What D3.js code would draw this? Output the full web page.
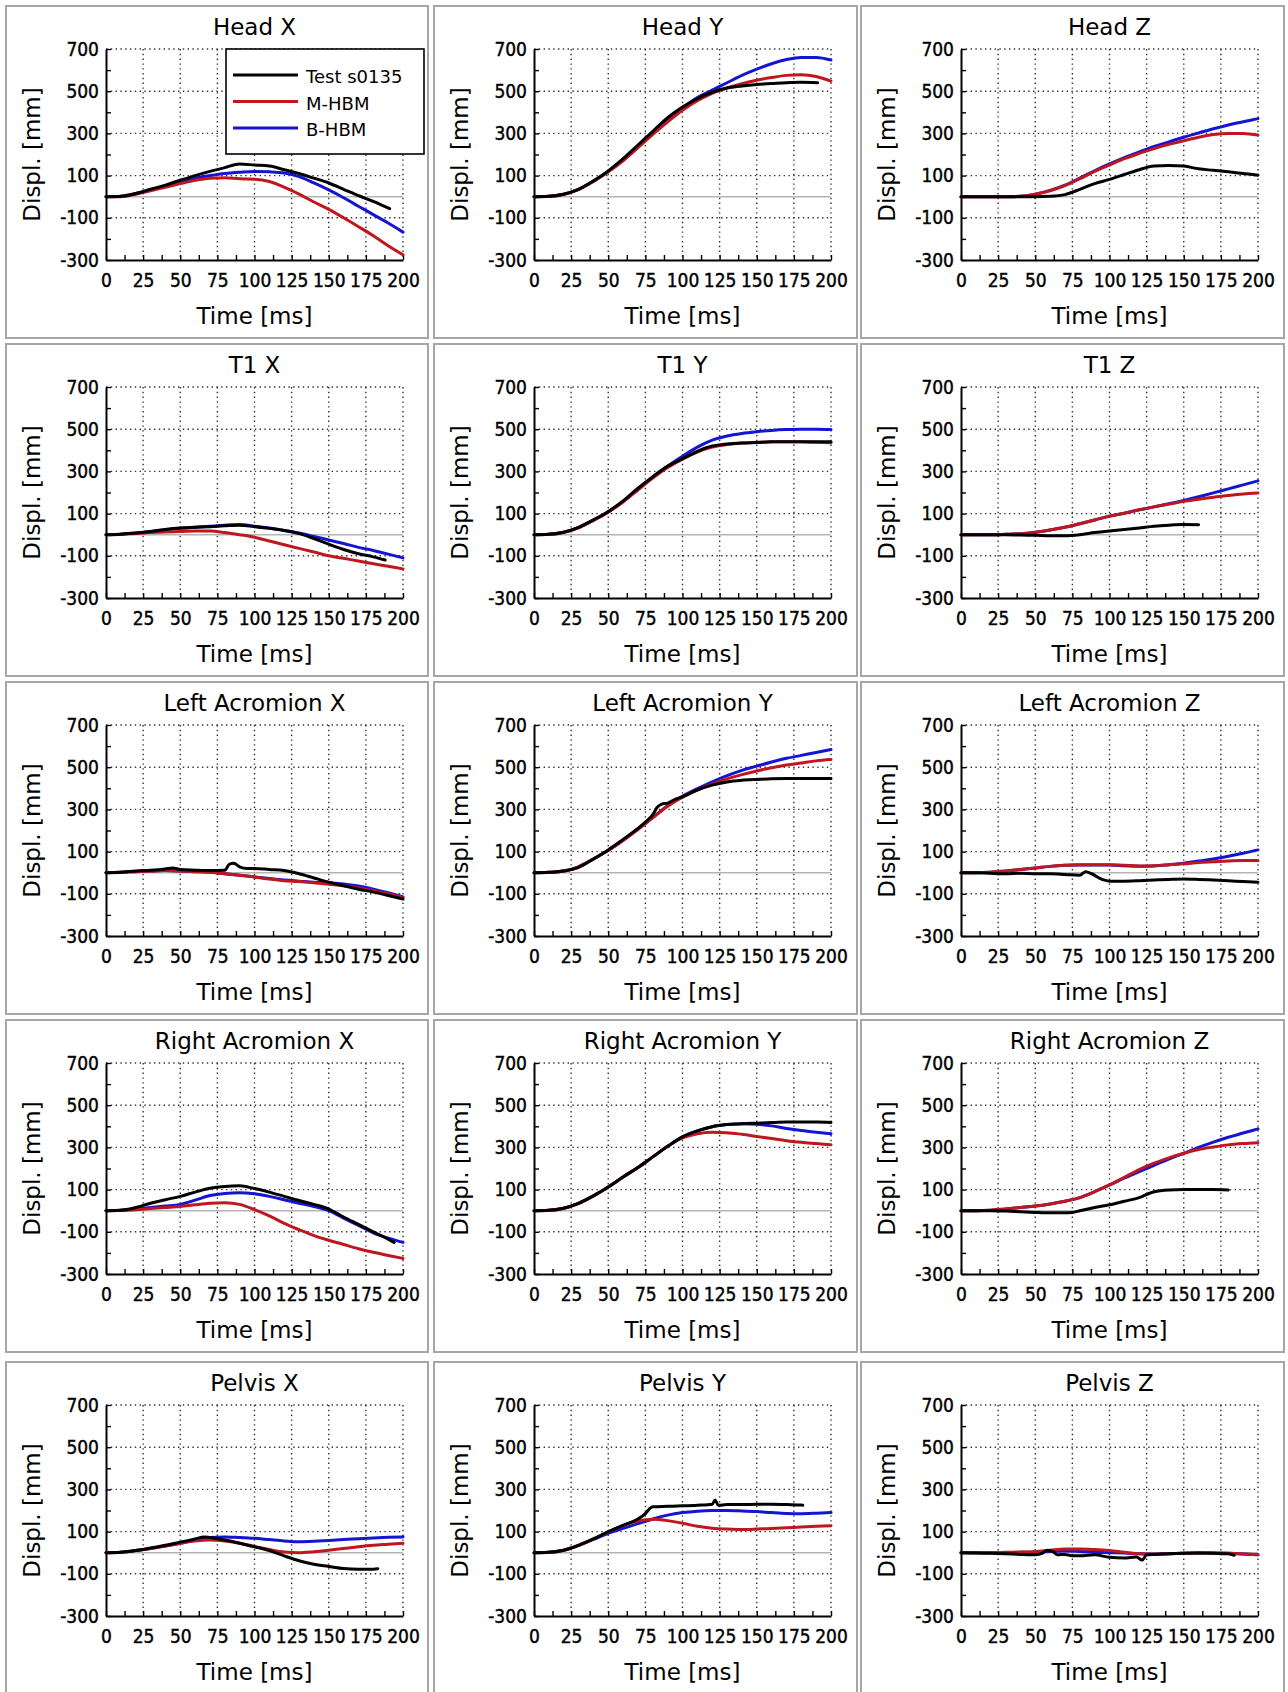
<!DOCTYPE html>
<html><head><meta charset="utf-8">
<script src="https://cdn.jsdelivr.net/npm/d3@7"></script>
<style>
body{margin:0;background:#fff}
svg{display:block}
text{font-family:"DejaVu Sans",Verdana,sans-serif;fill:#000}
.tick text{font-family:"DejaVu Sans Condensed","DejaVu Sans",sans-serif}
</style>
</head><body><svg id="c" width="1288" height="1692"></svg>
<script>
const timeTicks = [0,25,50,75,100,125,150,175,200];
const displTicks = [700,500,300,100,-100,-300];
const seriesNames = ["Test s0135","M-HBM","B-HBM"];
const titles = ["Head X","Head Y","Head Z","T1 X","T1 Y","T1 Z",
  "Left Acromion X","Left Acromion Y","Left Acromion Z",
  "Right Acromion X","Right Acromion Y","Right Acromion Z",
  "Pelvis X","Pelvis Y","Pelvis Z"];

// [time ms, displacement mm]
const headX_test=[[0,0],[10,2],[20,15],[30,35],[40,55],[50,78],[60,100],[70,120],[80,138],[90,155],[100,150],[110,145],[120,128],[130,110],[140,88],[150,65],[160,35],[170,5],[180,-22],[191,-57]];
const headX_m=[[0,0],[10,0],[20,12],[30,28],[40,45],[50,62],[60,78],[70,88],[80,90],[90,85],[100,83],[110,72],[120,45],[130,12],[140,-25],[150,-60],[160,-100],[170,-142],[180,-185],[190,-232],[200,-275]];
const headX_b=[[0,0],[10,2],[20,15],[30,32],[40,52],[50,70],[60,88],[70,100],[80,110],[90,116],[100,120],[110,118],[120,112],[130,95],[140,65],[150,32],[160,-5],[170,-45],[180,-85],[190,-125],[200,-168]];

const headY_test=[[0,0],[10,2],[20,12],[30,35],[40,75],[50,122],[60,180],[70,245],[80,310],[90,375],[100,425],[110,465],[120,495],[130,515],[140,525],[150,532],[160,536],[170,540],[180,542],[191,540]];
const headY_m=[[0,0],[10,2],[20,12],[30,35],[40,72],[50,118],[60,170],[70,232],[80,295],[90,355],[100,410],[110,455],[120,490],[130,515],[140,535],[150,552],[160,565],[170,575],[180,578],[190,570],[200,548]];
const headY_b=[[0,0],[10,2],[20,12],[30,35],[40,73],[50,120],[60,175],[70,240],[80,305],[90,370],[100,420],[110,470],[120,505],[130,540],[140,575],[150,605],[160,630],[170,650],[180,660],[190,660],[200,648]];

const headZ_test=[[0,0],[10,0],[20,0],[30,0],[40,0],[50,0],[60,2],[70,10],[80,35],[90,62],[100,82],[110,105],[120,128],[130,145],[140,148],[150,145],[160,132],[170,125],[180,118],[190,110],[200,102]];
const headZ_m=[[0,0],[10,0],[20,0],[30,0],[40,2],[50,12],[60,28],[70,52],[80,85],[90,120],[100,150],[110,180],[120,205],[130,228],[140,248],[150,265],[160,282],[170,295],[180,300],[190,300],[200,292]];
const headZ_b=[[0,0],[10,0],[20,0],[30,0],[40,2],[50,12],[60,30],[70,55],[80,88],[90,123],[100,155],[110,185],[120,212],[130,238],[140,260],[150,282],[160,302],[170,322],[180,340],[190,355],[200,370]];

const t1X_test=[[0,0],[10,2],[20,8],[30,15],[40,25],[50,32],[60,35],[70,38],[80,42],[90,45],[100,38],[110,30],[120,20],[130,5],[140,-18],[150,-45],[160,-70],[170,-90],[180,-105],[188,-120]];
const t1X_m=[[0,0],[10,2],[20,6],[30,10],[40,13],[50,15],[60,18],[70,17],[80,10],[90,0],[100,-12],[110,-30],[120,-48],[130,-65],[140,-82],[150,-100],[160,-112],[170,-125],[180,-138],[190,-150],[200,-162]];
const t1X_b=[[0,0],[10,2],[20,8],[30,15],[40,25],[50,30],[60,35],[70,40],[80,45],[90,48],[100,40],[110,32],[120,20],[130,8],[140,-8],[150,-25],[160,-42],[170,-60],[180,-75],[190,-92],[200,-110]];

const t1Y_test=[[0,0],[10,2],[20,12],[30,35],[40,70],[50,110],[60,160],[70,220],[80,275],[90,325],[100,360],[110,395],[120,420],[130,430],[140,435],[150,437],[160,440],[170,440],[180,441],[190,441],[200,440]];
const t1Y_m=[[0,0],[10,2],[20,12],[30,33],[40,68],[50,107],[60,155],[70,212],[80,268],[90,318],[100,358],[110,392],[120,415],[130,428],[140,435],[150,438],[160,440],[170,441],[180,440],[190,438],[200,436]];
const t1Y_b=[[0,0],[10,2],[20,12],[30,34],[40,69],[50,108],[60,158],[70,216],[80,272],[90,325],[100,372],[110,415],[120,448],[130,468],[140,480],[150,488],[160,494],[170,498],[180,500],[190,500],[200,498]];

const t1Z_test=[[0,0],[10,0],[20,0],[30,0],[40,-2],[50,-3],[60,-5],[70,-5],[80,0],[90,10],[100,18],[110,25],[120,32],[130,40],[140,45],[150,48],[160,47]];
const t1Z_m=[[0,0],[10,0],[20,0],[30,2],[40,5],[50,12],[60,22],[70,35],[80,52],[90,70],[100,88],[110,102],[120,118],[130,132],[140,145],[150,158],[160,168],[170,178],[180,186],[190,193],[200,198]];
const t1Z_b=[[0,0],[10,0],[20,0],[30,2],[40,5],[50,12],[60,22],[70,35],[80,52],[90,70],[100,88],[110,102],[120,118],[130,132],[140,147],[150,162],[160,180],[170,198],[180,217],[190,236],[200,255]];

const laX_test=[[0,0],[10,2],[20,8],[30,12],[40,18],[45,22],[50,15],[60,12],[70,10],[80,12],[83,40],[86,45],[90,28],[95,20],[100,20],[110,15],[120,10],[130,-5],[140,-25],[150,-45],[160,-62],[170,-78],[180,-92],[190,-108],[200,-125]];
const laX_m=[[0,0],[10,2],[20,5],[30,8],[40,10],[50,8],[60,5],[70,2],[80,-5],[90,-12],[100,-20],[110,-30],[120,-38],[130,-42],[140,-48],[150,-55],[160,-62],[170,-72],[180,-85],[190,-100],[200,-118]];
const laX_b=[[0,0],[10,2],[20,5],[30,8],[40,10],[50,8],[60,5],[70,2],[80,-5],[90,-12],[100,-20],[110,-28],[120,-35],[130,-40],[140,-45],[150,-48],[160,-53],[170,-63],[180,-78],[190,-95],[200,-115]];

const laY_test=[[0,0],[10,2],[20,8],[30,25],[40,65],[50,108],[60,158],[70,210],[75,240],[80,275],[83,310],[86,325],[90,330],[95,348],[100,360],[110,392],[120,415],[130,430],[140,438],[150,442],[160,445],[170,446],[180,446],[190,446],[200,446]];
const laY_m=[[0,0],[10,2],[20,8],[30,28],[40,65],[50,105],[60,152],[70,205],[80,260],[90,315],[100,358],[110,392],[120,420],[130,445],[140,465],[150,482],[160,497],[170,510],[180,520],[190,530],[200,536]];
const laY_b=[[0,0],[10,2],[20,8],[30,28],[40,65],[50,106],[60,154],[70,207],[80,262],[90,318],[100,362],[110,398],[120,430],[130,460],[140,485],[150,505],[160,525],[170,542],[180,556],[190,570],[200,584]];

const laZ_test=[[0,0],[10,0],[20,-3],[30,-5],[40,-3],[50,-5],[60,-5],[70,-8],[80,-12],[84,5],[88,-5],[95,-32],[100,-40],[110,-40],[120,-38],[130,-35],[140,-32],[150,-30],[160,-32],[170,-35],[180,-38],[190,-42],[200,-45]];
const laZ_m=[[0,0],[10,0],[20,2],[30,8],[40,15],[50,22],[60,30],[70,35],[80,38],[90,38],[100,38],[110,35],[120,32],[130,33],[140,38],[150,42],[160,48],[170,52],[180,56],[190,58],[200,58]];
const laZ_b=[[0,0],[10,0],[20,2],[30,8],[40,15],[50,22],[60,30],[70,35],[80,37],[90,37],[100,36],[110,33],[120,30],[130,32],[140,38],[150,45],[160,55],[170,65],[180,78],[190,92],[200,108]];

const raX_test=[[0,0],[10,2],[20,15],[30,35],[40,52],[50,68],[60,88],[70,106],[80,115],[90,118],[100,105],[110,88],[120,68],[130,48],[140,30],[150,8],[160,-30],[170,-65],[180,-100],[190,-135],[194,-150]];
const raX_m=[[0,0],[10,2],[20,5],[30,10],[40,15],[50,20],[60,28],[70,35],[80,38],[90,30],[100,5],[110,-25],[120,-60],[130,-90],[140,-118],[150,-140],[160,-160],[170,-180],[180,-197],[190,-212],[200,-226]];
const raX_b=[[0,0],[10,2],[20,8],[30,15],[40,22],[50,30],[60,50],[70,72],[80,82],[90,85],[100,80],[110,68],[120,52],[130,35],[140,20],[150,0],[160,-35],[170,-70],[180,-105],[190,-130],[200,-150]];

const raY_test=[[0,0],[10,2],[20,12],[30,35],[40,70],[50,112],[60,160],[70,205],[80,255],[90,305],[100,350],[110,378],[120,398],[130,408],[140,412],[150,415],[160,418],[170,420],[180,420],[190,420],[200,418]];
const raY_m=[[0,0],[10,2],[20,12],[30,35],[40,70],[50,112],[60,160],[70,205],[80,255],[90,305],[100,345],[110,365],[120,372],[130,370],[140,362],[150,352],[160,342],[170,332],[180,324],[190,318],[200,312]];
const raY_b=[[0,0],[10,2],[20,12],[30,35],[40,70],[50,112],[60,160],[70,205],[80,255],[90,305],[100,350],[110,378],[120,398],[130,408],[140,412],[150,410],[160,402],[170,390],[180,380],[190,372],[200,365]];

const raZ_test=[[0,0],[10,0],[20,0],[30,-2],[40,-5],[50,-8],[60,-10],[70,-10],[75,-8],[80,0],[90,15],[100,28],[110,45],[120,62],[130,90],[140,98],[150,100],[160,100],[170,100],[180,98]];
const raZ_m=[[0,0],[10,0],[20,2],[30,8],[40,15],[50,22],[60,32],[70,45],[80,62],[90,90],[100,122],[110,158],[120,195],[130,225],[140,250],[150,272],[160,290],[170,302],[180,312],[190,318],[200,322]];
const raZ_b=[[0,0],[10,0],[20,2],[30,8],[40,15],[50,22],[60,32],[70,45],[80,62],[90,90],[100,122],[110,155],[120,185],[130,215],[140,245],[150,272],[160,300],[170,325],[180,348],[190,368],[200,388]];

const pX_test=[[0,0],[10,2],[20,10],[30,22],[40,35],[50,50],[60,65],[66,75],[70,72],[80,60],[90,45],[100,28],[110,10],[120,-15],[130,-38],[140,-55],[150,-65],[160,-75],[170,-78],[180,-78],[183,-76]];
const pX_m=[[0,0],[10,2],[20,10],[30,20],[40,32],[50,45],[60,55],[70,60],[80,55],[90,45],[100,30],[110,15],[120,3],[130,0],[140,5],[150,12],[160,20],[170,28],[180,35],[190,40],[200,45]];
const pX_b=[[0,0],[10,2],[20,10],[30,20],[40,32],[50,45],[60,60],[70,72],[80,75],[90,72],[100,68],[110,62],[120,56],[130,52],[140,54],[150,58],[160,62],[170,66],[180,70],[190,73],[200,75]];

const pY_test=[[0,0],[10,2],[20,12],[30,35],[40,65],[50,100],[60,130],[70,160],[75,185],[78,210],[80,218],[90,220],[100,222],[110,225],[120,230],[122,250],[124,225],[130,228],[140,228],[150,230],[160,230],[170,228],[180,226],[181,225]];
const pY_m=[[0,0],[10,2],[20,12],[30,35],[40,65],[50,98],[60,128],[70,150],[80,158],[90,152],[100,140],[110,125],[120,116],[130,112],[140,110],[150,112],[160,115],[170,118],[180,122],[190,125],[200,128]];
const pY_b=[[0,0],[10,2],[20,12],[30,35],[40,63],[50,92],[60,115],[70,138],[80,160],[90,178],[100,190],[110,197],[120,200],[130,200],[140,198],[150,195],[160,190],[170,186],[180,185],[190,187],[200,190]];

const pZ_test=[[0,0],[10,-2],[20,-3],[30,-5],[40,-8],[50,-10],[55,-2],[58,12],[62,5],[65,-10],[70,-8],[75,-15],[80,-15],[90,-10],[100,-22],[110,-25],[118,-20],[122,-35],[125,-10],[130,-8],[140,-5],[150,-3],[160,-2],[170,-3],[180,-5],[184,-12]];
const pZ_m=[[0,0],[10,0],[20,0],[30,2],[40,3],[50,5],[60,12],[70,18],[80,18],[90,15],[100,10],[110,2],[120,-5],[130,-7],[140,-5],[150,-3],[160,-2],[170,-2],[180,-3],[190,-6],[200,-10]];
const pZ_b=[[0,0],[10,0],[20,0],[30,0],[40,2],[50,3],[60,6],[70,8],[80,6],[90,2],[100,0],[110,-2],[120,-5],[130,-6],[140,-5],[150,-3],[160,-2],[170,-2],[180,-3],[190,-6],[200,-10]];

const testData=[headX_test,headY_test,headZ_test,t1X_test,t1Y_test,t1Z_test,laX_test,laY_test,laZ_test,raX_test,raY_test,raZ_test,pX_test,pY_test,pZ_test];
const mData=[headX_m,headY_m,headZ_m,t1X_m,t1Y_m,t1Z_m,laX_m,laY_m,laZ_m,raX_m,raY_m,raZ_m,pX_m,pY_m,pZ_m];
const bData=[headX_b,headY_b,headZ_b,t1X_b,t1Y_b,t1Z_b,laX_b,laY_b,laZ_b,raX_b,raY_b,raZ_b,pX_b,pY_b,pZ_b];

const colors = ["#000000","#c0161e","#1414d2"];
const colX = [6,434,861], rowY = [6,344,682,1020,1362];
const panelW = 422, panelH = 332;
const pl = 100, pt = 43, pw = 297, ph = 211;

const svg = d3.select("#c");
svg.append("rect").attr("width",1288).attr("height",1692).attr("fill","#fff");

titles.forEach((title,i)=>{
  const r = Math.floor(i/3), c = i%3;
  const g = svg.append("g").attr("transform",`translate(${colX[c]},${rowY[r]})`);
  g.append("rect").attr("x",0).attr("y",0).attr("width",panelW + (c>0?1:0)).attr("height",panelH)
    .attr("fill","#fff").attr("stroke","#a6a6a6").attr("stroke-width",2);

  const x = d3.scaleLinear().domain([0,200]).range([pl,pl+pw]);
  const y = d3.scaleLinear().domain([-300,700]).range([pt+ph,pt]);

  // grid
  g.selectAll(null).data(timeTicks.filter(t=>t>0)).join("line")
    .attr("x1",d=>x(d)).attr("x2",d=>x(d)).attr("y1",y(700)).attr("y2",y(-300))
    .attr("stroke","#333").attr("stroke-width",1.4).attr("stroke-dasharray","1.4,3.4");
  g.selectAll(null).data(displTicks.filter(v=>v>-300)).join("line")
    .attr("x1",x(0)).attr("x2",x(200)).attr("y1",d=>y(d)).attr("y2",d=>y(d))
    .attr("stroke","#333").attr("stroke-width",1.4).attr("stroke-dasharray","1.4,3.4");
  // zero line
  g.append("line").attr("x1",x(0)).attr("x2",x(200)).attr("y1",y(0)).attr("y2",y(0))
    .attr("stroke","#b4b4b4").attr("stroke-width",1.6);

  // axes
  const ax = g.append("g").attr("transform",`translate(0,${y(-300)})`)
    .call(d3.axisBottom(x).tickValues(d3.range(0,201,12.5)).tickSizeInner(-5).tickSizeOuter(0)
      .tickPadding(14).tickFormat(d=> d%25===0 ? d : ""));
  const ay = g.append("g").attr("transform",`translate(${x(0)},0)`)
    .call(d3.axisLeft(y).tickValues(d3.range(-300,701,100)).tickSizeInner(-5).tickSizeOuter(0)
      .tickPadding(7).tickFormat(d=> displTicks.includes(d) ? d : ""));
  [ax,ay].forEach(a=>{
    a.attr("font-family",null).attr("font-size",null);
    a.select(".domain").attr("stroke","#000").attr("stroke-width",2);
    a.selectAll(".tick line").attr("stroke","#000").attr("stroke-width",1.4);
    a.selectAll(".tick text").style("font-size","19px").attr("fill","#000")
      .attr("stroke","#000").attr("stroke-width",0.4);
  });

  // lines
  const line = d3.line().x(d=>x(d[0])).y(d=>y(d[1])).curve(d3.curveMonotoneX);
  [[bData[i],colors[2]],[mData[i],colors[1]],[testData[i],colors[0]]].forEach(([d,col])=>{
    g.append("path").datum(d).attr("d",line).attr("fill","none")
      .attr("stroke",col).attr("stroke-width",3).attr("stroke-linejoin","round").attr("stroke-linecap","round");
  });

  // texts
  g.append("text").attr("x",pl+pw/2).attr("y",28.5).attr("text-anchor","middle")
    .style("font-size","23px").text(title);
  g.append("text").attr("x",pl+pw/2).attr("y",pt+ph+64).attr("text-anchor","middle")
    .style("font-size","23px").text("Time [ms]");
  g.append("text").attr("transform",`translate(34,${pt+ph/2}) rotate(-90)`).attr("text-anchor","middle")
    .style("font-size","23px").text("Displ. [mm]");

  if(i===0){
    const lg = g.append("g");
    lg.append("rect").attr("x",220).attr("y",43).attr("width",198).attr("height",105)
      .attr("fill","#fff").attr("stroke","#000").attr("stroke-width",1.6);
    seriesNames.forEach((n,k)=>{
      const yy = 69 + k*26.5;
      lg.append("line").attr("x1",227).attr("x2",292).attr("y1",yy).attr("y2",yy)
        .attr("stroke",colors[k]).attr("stroke-width",3);
      lg.append("text").attr("x",300).attr("y",yy+1.5).attr("dominant-baseline","central")
        .style("font-size","18px").text(n);
    });
  }
});
</script>
</body></html>
